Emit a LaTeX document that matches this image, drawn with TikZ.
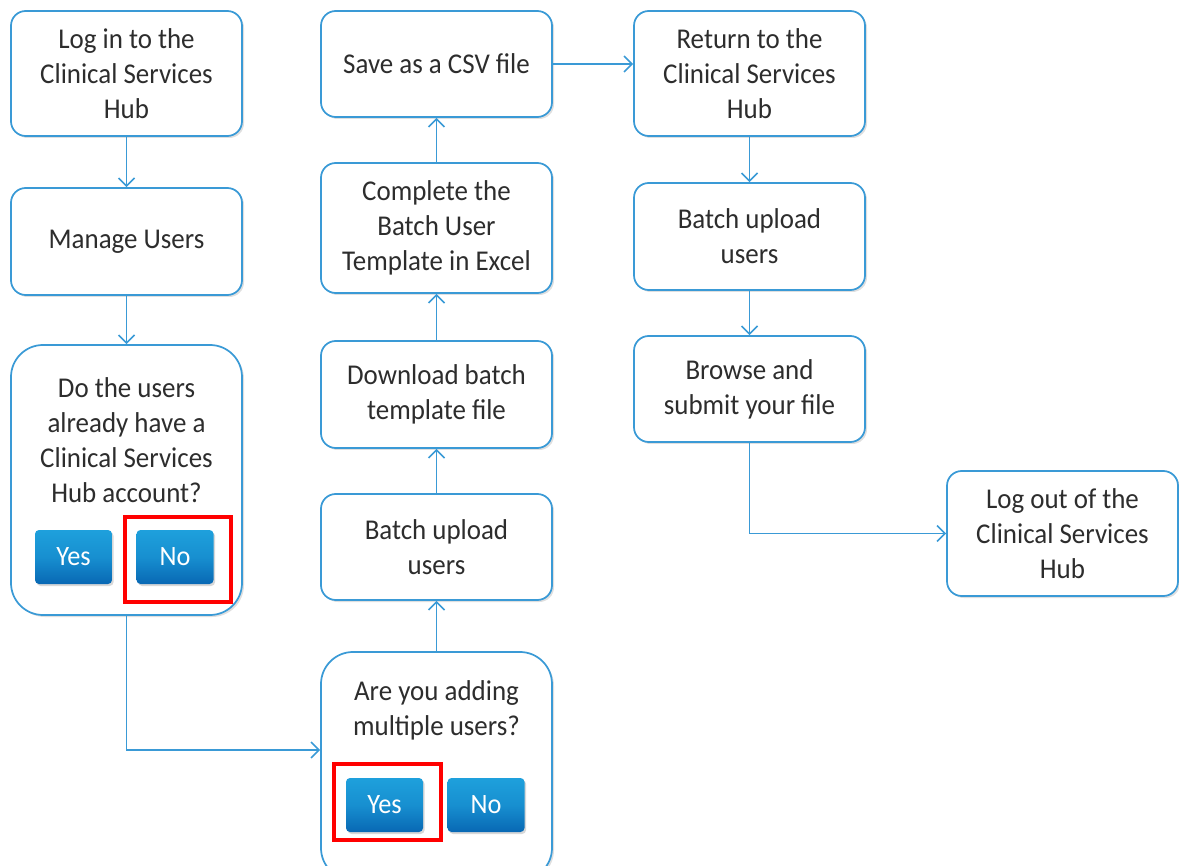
\documentclass[tikz,border=0pt]{standalone}
\usepackage{fontspec}
\setmainfont{Carlito}[FakeStretch=0.94]
\usetikzlibrary{arrows.meta,shadows}
\definecolor{hubblue}{RGB}{58,154,214}
\definecolor{hubtext}{RGB}{45,45,45}
\definecolor{btntop}{RGB}{30,160,220}
\definecolor{btnbot}{RGB}{8,104,180}
\begin{document}
\begin{tikzpicture}[x=0.75pt,y=0.75pt,yscale=-1,xscale=1,
	box/.style={draw=hubblue, line width=1.3pt, fill=white, rounded corners=11pt, minimum width=173.25pt, align=center, text=hubtext, inner sep=0pt, font=\fontsize{21.5pt}{26.25pt}\selectfont, drop shadow={shadow xshift=1.5pt, shadow yshift=-1.5pt, opacity=0.25}},
	askbox/.style={box, rounded corners=24pt},
	txt/.style={align=center, text=hubtext, inner sep=0pt, font=\fontsize{21.5pt}{26.25pt}\selectfont},
	btn/.style={rounded corners=3pt, minimum width=57.75pt, minimum height=40.5pt, inner sep=0pt, top color=btntop, bottom color=btnbot, middle color=btntop!70!btnbot, text=white, font=\fontsize{21pt}{24pt}\selectfont, drop shadow={shadow xshift=1.2pt, shadow yshift=-1.5pt, opacity=0.3}},
	pick/.style={draw=red, line width=3pt},
	arr/.style={draw=hubblue, line width=1.2pt, -{Straight Barb[length=6pt,width=12pt]}}]
	\useasboundingbox (0,0) rectangle (1179,866);

	% first column
	\node [box, minimum height=93.75pt] (login) at (126.5,73.5) {Log in to the\\Clinical Services\\Hub};
	\node [box, minimum height=80.25pt] (manage) at (126.5,241.5) {Manage Users};
	\node [askbox, minimum height=202.5pt] (have) at (126.5,480) {};
	\node [txt] (havetxt) at (126.5,440) {Do the users\\already have a\\Clinical Services\\Hub account?};
	\node [btn] (haveyes) at (73.5,557) {Yes};
	\node [btn] (haveno) at (175,557) {No};
	\node [pick, minimum width=79.5pt, minimum height=63.75pt] (havepick) at (178,559.5) {};

	% second column
	\node [askbox, minimum height=171pt] (multi) at (436.5,766) {};
	\node [txt] (multitxt) at (436.5,710) {Are you adding\\multiple users?};
	\node [btn] (multiyes) at (384.5,805) {Yes};
	\node [btn] (multino) at (486,805) {No};
	\node [pick, minimum width=80.25pt, minimum height=57pt] (multipick) at (387.5,802) {};
	\node [box, minimum height=79.5pt] (batch) at (436.5,547) {Batch upload\\users};
	\node [box, minimum height=80.25pt] (download) at (436.5,394.5) {Download batch\\template file};
	\node [box, minimum height=97.5pt] (complete) at (436.5,228) {Complete the\\Batch User\\Template in Excel};
	\node [box, minimum height=79.5pt] (save) at (436.5,64) {Save as a CSV file};

	% third column
	\node [box, minimum height=93.75pt] (return) at (749.5,73.5) {Return to the\\Clinical Services\\Hub};
	\node [box, minimum height=80.25pt] (upload) at (749.5,236.5) {Batch upload\\users};
	\node [box, minimum height=79.5pt] (browse) at (749.5,389) {Browse and\\submit your file};
	\node [box, minimum height=93.75pt] (logout) at (1062.5,533.5) {Log out of the\\Clinical Services\\Hub};

	% connectors
	\draw [arr] (login) -- (manage);
	\draw [arr] (manage) -- (have);
	\draw [arr] (have.south) |- ([yshift=-12pt]multi.west);
	\draw [arr] (multi) -- (batch);
	\draw [arr] (batch) -- (download);
	\draw [arr] (download) -- (complete);
	\draw [arr] (complete) -- (save);
	\draw [arr] (save.east) -- (save.east -| return.west);
	\draw [arr] (return) -- (upload);
	\draw [arr] (upload) -- (browse);
	\draw [arr] (browse.south) |- (logout.west);

\end{tikzpicture}
\end{document}
